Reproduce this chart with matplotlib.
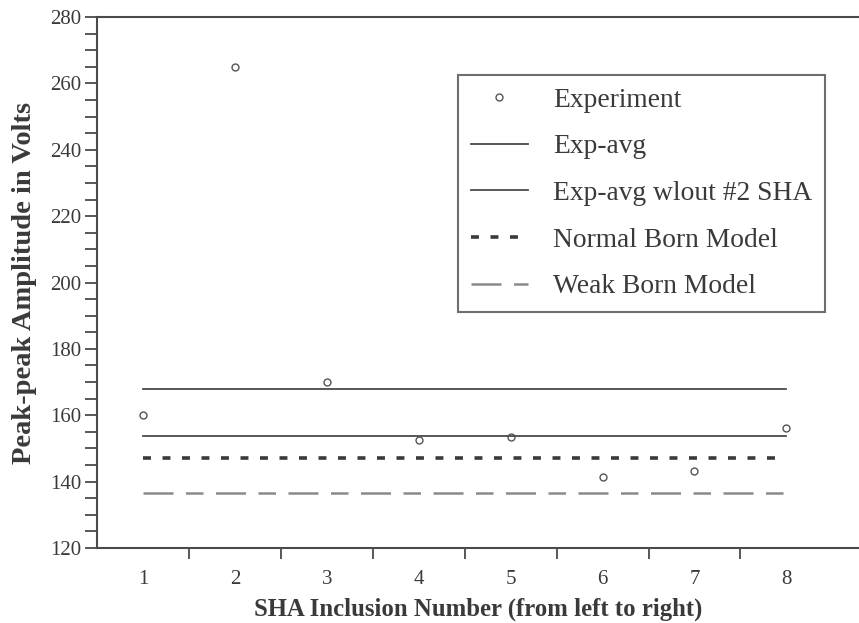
import matplotlib
matplotlib.use("Agg")
import matplotlib.pyplot as plt
import numpy as np
from matplotlib.ticker import MultipleLocator, FixedLocator

plt.rcParams['font.family'] = ['Liberation Serif', 'DejaVu Serif']

sha_numbers = [1, 2, 3, 4, 5, 6, 7, 8]
experiment = [160.0, 265.0, 170.0, 152.5, 153.5, 141.4, 143.3, 156.2]
exp_avg = 168.0
exp_avg_wo2 = 153.8
normal_born = 147.0
weak_born = 136.7

x_tick_labels = ['1', '2', '3', '4', '5', '6', '7', '8']
y_ticks = [120, 140, 160, 180, 200, 220, 240, 260, 280]

grey = '#4a4a4a'
text_c = '#3a3a3a'

fig = plt.figure(figsize=(8.59, 6.23), dpi=100)
ax = fig.add_axes([97/859, 1-548/623, 1-97/859, (548-17)/623])

xs = [sha_numbers[0], sha_numbers[-1]]
ax.plot(sha_numbers, experiment, linestyle='none', marker='o', markersize=5,
        markerfacecolor='none', markeredgecolor='#555555', markeredgewidth=1.0,
        label='Experiment')
ax.plot(xs, [exp_avg]*2, color=grey, lw=1.3, label='Exp-avg')
ax.plot(xs, [exp_avg_wo2]*2, color=grey, lw=1.3, label='Exp-avg wlout #2 SHA')
ax.plot(xs, [normal_born]*2, color='#3a3a3a', lw=2.6, dashes=(2.2, 3.2),
        label='Normal Born Model')
ax.plot(xs, [weak_born]*2, color='#8a8a8a', lw=1.8, dashes=(12, 5, 7, 5),
        label='Weak Born Model')

ax.set_xlim(0.5, 8.79)
ax.set_ylim(120, 280)

ax.xaxis.set_major_locator(FixedLocator(sha_numbers))
ax.set_xticklabels(x_tick_labels)
ax.xaxis.set_minor_locator(FixedLocator([1.5, 2.5, 3.5, 4.5, 5.5, 6.5, 7.5]))
ax.tick_params(axis='x', which='major', length=0, pad=16, labelsize=15, labelcolor=text_c)
ax.tick_params(axis='x', which='minor', length=8, width=1.3, color=grey, direction='out')

ax.set_yticks(y_ticks)
ax.yaxis.set_minor_locator(MultipleLocator(5))
ax.tick_params(axis='y', which='both', length=9, width=1.3, color=grey,
               direction='out', labelsize=15, labelcolor=text_c, pad=2)

for s in ['right']:
    ax.spines[s].set_visible(False)
for s in ['left', 'top', 'bottom']:
    ax.spines[s].set_color(grey)
    ax.spines[s].set_linewidth(1.5)

ax.set_xlabel('SHA Inclusion Number (from left to right)', fontsize=17.8,
              fontweight='bold', color=text_c, labelpad=6)
ax.set_ylabel('Peak-peak Amplitude in Volts', fontsize=20.5,
              fontweight='bold', color=text_c, labelpad=10)

leg = ax.legend(loc='upper right', bbox_to_anchor=(0.955, 0.891),
                frameon=True, fancybox=False, fontsize=19.8,
                handlelength=2.1, handletextpad=0.9, labelspacing=0.78,
                borderpad=0.45, borderaxespad=0, labelcolor=text_c)
leg.get_frame().set_edgecolor(grey)
leg.get_frame().set_linewidth(1.5)

fig.savefig('out.png', dpi=100)
